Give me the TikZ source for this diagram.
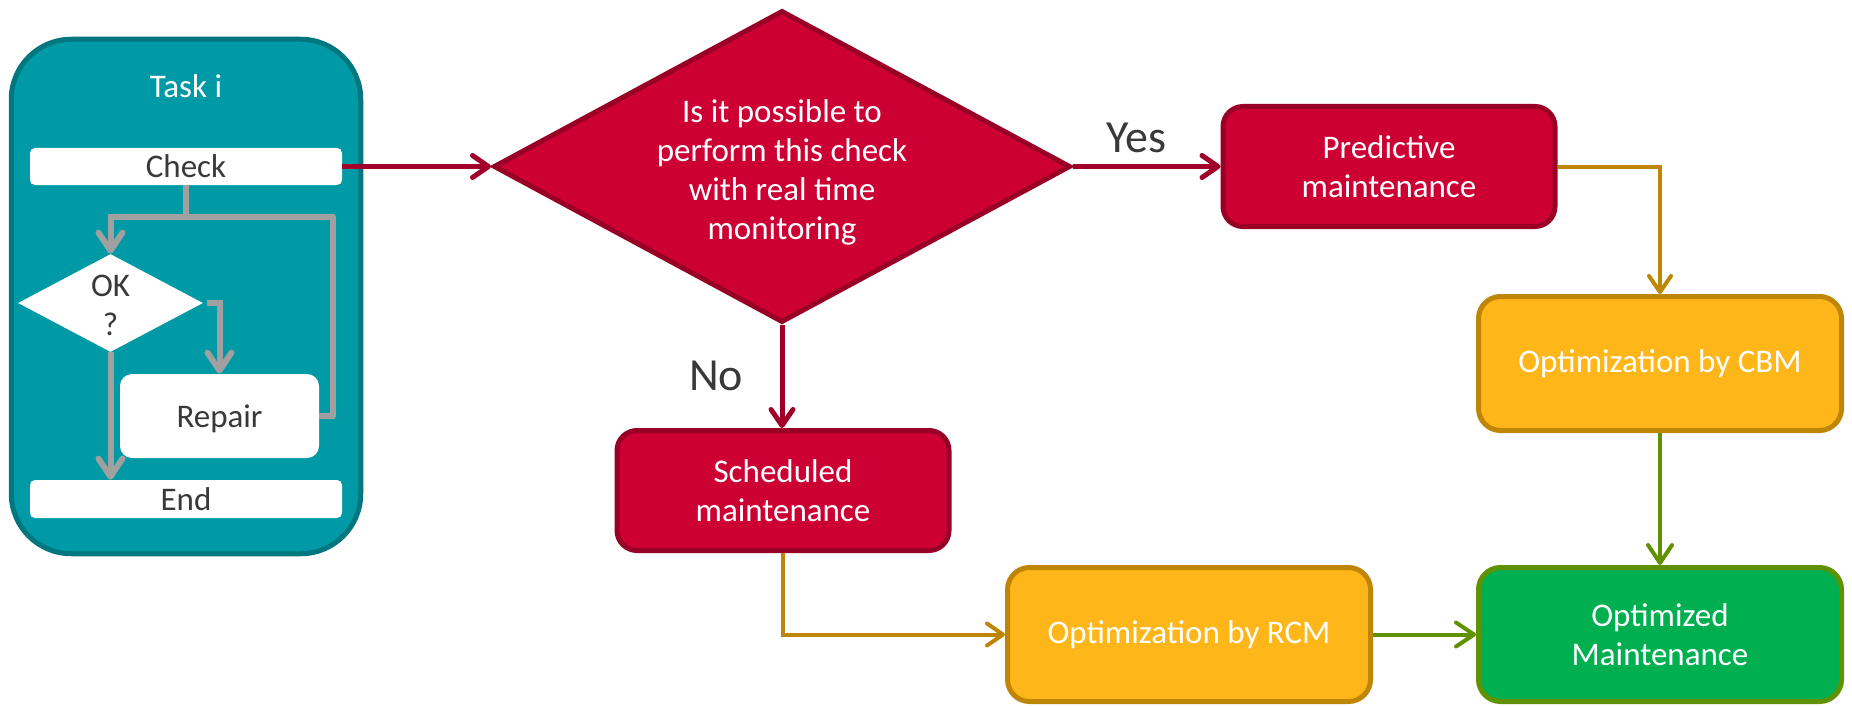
\documentclass[tikz,border=0pt]{standalone}
\usepackage{fontspec}
\setmainfont{Carlito}
\usetikzlibrary{shapes.geometric,arrows.meta}
\definecolor{tealfill}{HTML}{0099A6}
\definecolor{tealdark}{HTML}{00767E}
\definecolor{rfill}{HTML}{CC0033}
\definecolor{rdark}{HTML}{990026}
\definecolor{rline}{HTML}{A0002A}
\definecolor{afill}{HTML}{FFB618}
\definecolor{adark}{HTML}{BF8606}
\definecolor{gfill}{HTML}{00AF50}
\definecolor{gdark}{HTML}{5F9100}
\definecolor{greyline}{HTML}{A0A0A0}
\definecolor{txtgrey}{HTML}{3B3838}
\tikzset{
  base/.style={font=\fontsize{16.5}{19.5}\selectfont, align=center, inner sep=0pt},
  taskbox/.style={base, rectangle, rounded corners=30pt, draw=tealdark, fill=tealfill, line width=2.5pt},
  whitebar/.style={base, rectangle, rounded corners=2.5pt, fill=white, text=txtgrey},
  okdia/.style={base, diamond, aspect=1.9, fill=white, text=txtgrey},
  bigdia/.style={base, diamond, aspect=1.84, fill=rfill, draw=rdark, line width=2.5pt, text=white},
  redbox/.style={base, rectangle, rounded corners=10pt, draw=rdark, fill=rfill, line width=2.5pt, text=white, minimum width=166pt, minimum height=60pt},
  ambox/.style={base, rectangle, rounded corners=11pt, draw=adark, fill=afill, line width=2.5pt, text=white, minimum width=181.5pt, minimum height=67pt},
  grbox/.style={base, rectangle, rounded corners=11pt, draw=gdark, fill=gfill, line width=2.5pt, text=white, minimum width=181.5pt, minimum height=67pt},
  lbl/.style={font=\fontsize{23}{26}\selectfont, text=txtgrey, inner sep=0pt},
  greyconn/.style={draw=greyline, line width=3pt},
  greyarr/.style={greyconn, -{Straight Barb[length=9pt,width=12pt,round]}},
  redarr/.style={draw=rline, line width=2.5pt, -{Straight Barb[length=8pt,width=11pt,round]}},
  amarr/.style={draw=adark, line width=2pt, -{Straight Barb[length=8pt,width=11pt,round]}},
  grarr/.style={draw=gdark, line width=2pt, -{Straight Barb[length=9pt,width=12pt,round]}},
}
\begin{document}
\begin{tikzpicture}[x=0.5pt,y=-0.5pt]
\useasboundingbox (0,0) rectangle (1852,706);
% Task box
\node[taskbox, minimum width=174.75pt, minimum height=257.25pt] (task) at (186,296.5) {};
\node[base, text=white] (tasklbl) at (186,86) {Task i};
\node[whitebar, minimum width=156pt, minimum height=18.5pt] (check) at (186,166.5) {Check};
\node[okdia, minimum width=92.5pt, minimum height=49pt] (ok) at (110.5,303) {};
\node[base, text=txtgrey] (oktext) at (110.5,305) {OK\\?};
\node[whitebar, rounded corners=6pt, minimum width=99.5pt, minimum height=42pt] (repair) at (219.5,416) {};
\node[base, text=txtgrey] (repairtext) at (219.5,419) {Repair};
\node[whitebar, minimum width=156pt, minimum height=19pt] (end) at (186,499) {End};
\coordinate (g1) at (186,217);
\coordinate (g2) at (333,416);
\draw[greyarr] (check.south) -- (g1) -| (ok.north);
\draw[greyconn, line join=round] (g1) -| (g2) -- (repair.east);
\draw[greyarr, shorten <=2pt] (ok.east) -| (repair.north);
\draw[greyarr] (ok.south) -- (ok.south |- end.north);
% Decision
\node[bigdia, minimum width=288.5pt, minimum height=156pt] (q) at (782,166.5) {};
\node[base, text=white] (qtext) at (782,172) {Is it possible to\\perform this check\\with real time\\monitoring};
\node[redbox] (pred) at (1389,166.5) {Predictive\\maintenance};
\node[redbox] (sched) at (783,490.5) {Scheduled\\maintenance};
\node[ambox] (cbm) at (1660,363.5) {Optimization by CBM};
\node[ambox] (rcm) at (1189,634.5) {Optimization by RCM};
\node[grbox] (opt) at (1660,634.5) {Optimized\\Maintenance};
\node[lbl] (yes) at (1136,138) {Yes};
\node[lbl] (no) at (716,376) {No};
\draw[redarr] (check.east) -- (q.west);
\draw[redarr] (q.east) -- (pred.west);
\draw[redarr] (q.south) -- (q.south |- sched.north);
\draw[amarr] (pred.east) -| (cbm.north);
\draw[amarr] (sched.south) |- (rcm.west);
\draw[grarr] (cbm.south) -- (opt.north);
\draw[grarr] (rcm.east) -- (opt.west);
\end{tikzpicture}
\end{document}
